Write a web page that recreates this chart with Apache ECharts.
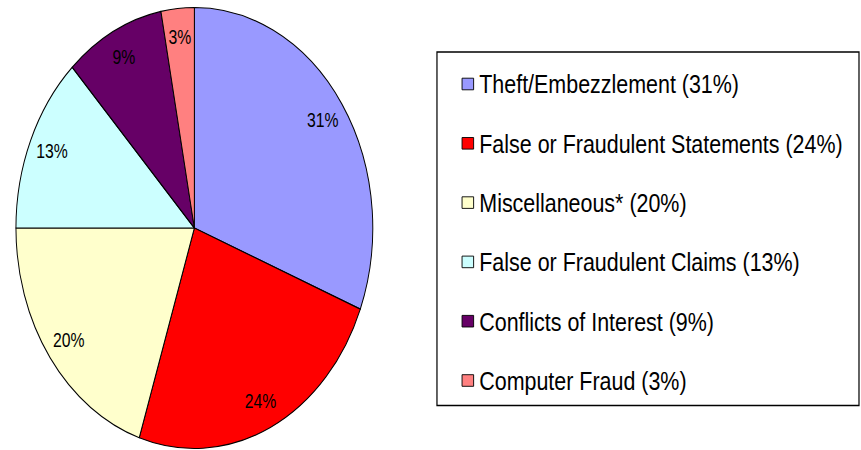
<!DOCTYPE html>
<html>
<head>
<meta charset="utf-8">
<script src="https://cdn.jsdelivr.net/npm/echarts@6/dist/echarts.min.js"></script>
<style>
html,body{margin:0;padding:0;background:#fff;overflow:hidden;width:861px;height:450px;}
#chart{width:1064px;height:450px;transform:scaleX(0.8092);transform-origin:0 0;}
</style>
</head>
<body>
<div id="chart"></div>
<script>
var categories = ['Theft/Embezzlement', 'False or Fraudulent Statements', 'Miscellaneous*', 'False or Fraudulent Claims', 'Conflicts of Interest', 'Computer Fraud'];
var values = [31, 24, 20, 13, 9, 3];
var colors = ['#9999FF', '#FF0000', '#FFFFCC', '#CCFFFF', '#660066', '#FF8080'];

var data = categories.map(function (c, i) {
  return { name: c, value: values[i], itemStyle: { color: colors[i] } };
});
var labelData = categories.map(function (c, i) {
  return { name: c, value: values[i] };
});

var chart = echarts.init(document.getElementById('chart'), null, { renderer: 'svg' });
var font = '"Liberation Sans", Arial, sans-serif';
chart.setOption({
  animation: false,
  color: colors,
  legend: {
    orient: 'vertical',
    left: 540,
    top: 52,
    data: categories,
    icon: 'rect',
    itemWidth: 14.3,
    itemHeight: 11.6,
    itemGap: 29.3,
    padding: [17, 20, 10, 30.5],
    borderColor: '#000',
    borderWidth: 1.5,
    backgroundColor: '#fff',
    itemStyle: { borderColor: '#000', borderWidth: 1 },
    textStyle: { fontFamily: font, fontSize: 26.5, color: '#000', lineHeight: 30, padding: [0, 0, 0, 2] },
    formatter: function (name) {
      return name + ' (' + values[categories.indexOf(name)] + '%)';
    },
    selectedMode: false
  },
  series: [
    {
      type: 'pie',
      center: [240.2, 228],
      radius: [0, 220.5],
      startAngle: 90,
      clockwise: true,
      silent: true,
      data: data,
      itemStyle: { borderColor: '#000', borderWidth: 1.2 },
      label: { show: false },
      labelLine: { show: false },
      emphasis: { disabled: true }
    },
    {
      type: 'pie',
      center: [240.2, 228],
      radius: [157, 220.5],
      startAngle: 90,
      clockwise: true,
      silent: true,
      legendHoverLink: false,
      data: labelData,
      itemStyle: { color: 'rgba(0,0,0,0)', borderWidth: 0 },
      label: {
        show: true,
        position: 'inside',
        formatter: '{c}%',
        fontFamily: font,
        fontSize: 19.5,
        color: '#000'
      },
      labelLine: { show: false },
      emphasis: { disabled: true }
    }
  ]
});
</script>
</body>
</html>
